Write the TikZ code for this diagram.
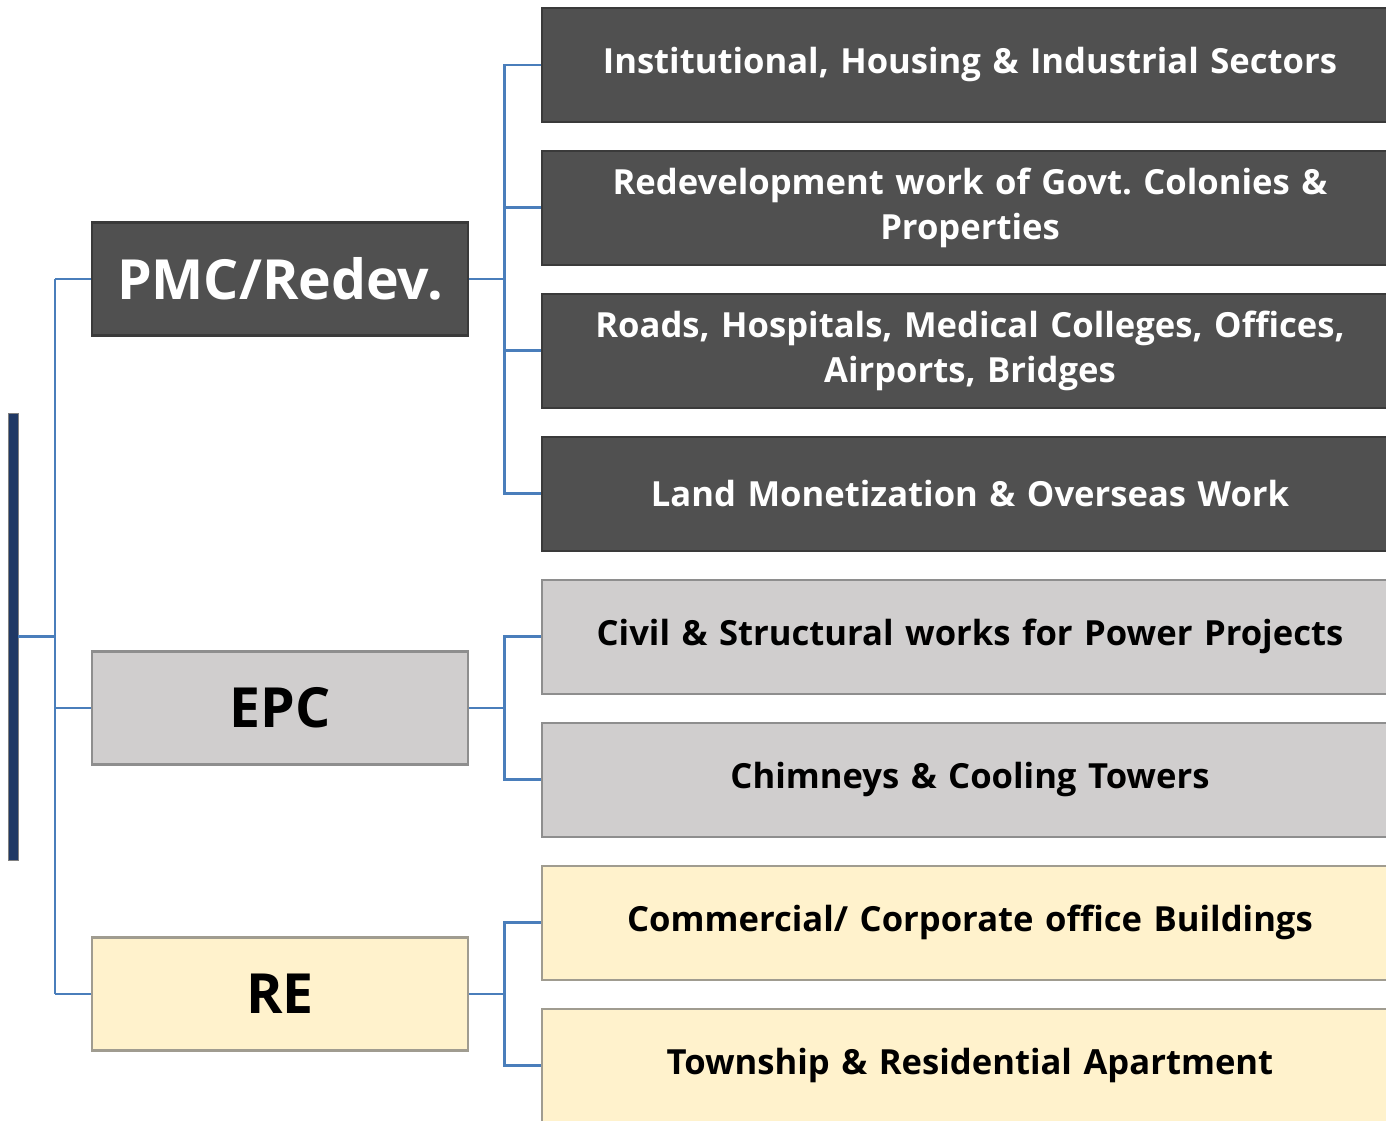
\documentclass[tikz,border=0pt]{standalone}
\usepackage{fontspec}
\setmainfont{Open Sans}
\usetikzlibrary{positioning}
\definecolor{darkfill}{HTML}{505050}
\definecolor{darkline}{HTML}{3A3A3A}
\definecolor{greyfill}{HTML}{D0CECE}
\definecolor{greyline}{HTML}{8E8E8E}
\definecolor{creamfill}{HTML}{FFF2CC}
\definecolor{creamline}{HTML}{A09C90}
\definecolor{navy}{HTML}{1F3864}
\definecolor{linkblue}{HTML}{4A7EBB}

\begin{document}
\frenchspacing
\begin{tikzpicture}[x=0.02cm,y=-0.02cm,node distance=2.86cm,on grid,
  head/.style={draw,line width=1.2pt,minimum width=7.52cm,minimum height=2.26cm,
    font=\fontsize{31.5}{36}\selectfont\bfseries},
  item/.style={draw,line width=1.2pt,minimum width=17.12cm,minimum height=2.28cm,
    text width=16.4cm,align=center,font=\fontsize{19.7}{26}\selectfont\bfseries},
  dark/.style={fill=darkfill,draw=darkline,text=white},
  grey/.style={fill=greyfill,draw=greyline,text=black},
  cream/.style={fill=creamfill,draw=creamline,text=black},
  link/.style={draw=linkblue,line width=1.7pt}]
  \useasboundingbox (0,0) rectangle (1386,1121);

  % trunk on the left
  \coordinate (trunk) at (55,279);
  \draw[link] (55,279) -- (55,994);

  \node[fill=navy,draw=gray,line width=0.5pt,minimum width=0.2cm,minimum height=8.94cm,
    inner sep=0pt] (bar) at (13,636.5) {};

  \node[head,dark] (pmc) at (280,279) {PMC/Redev.};
  \node[head,grey] (epc) at (280,708) {EPC};
  \node[head,cream] (re) at (280,994) {RE};

  \node[item,dark] (s1) at (970,65) {Institutional, Housing \& Industrial Sectors};
  \node[item,dark] (s2) [below = of s1] {Redevelopment work of Govt. Colonies \&\\Properties};
  \node[item,dark] (s3) [below = of s2] {Roads, Hospitals, Medical Colleges, Offices,\\Airports, Bridges};
  \node[item,dark] (s4) [below = of s3] {Land Monetization \& Overseas Work};
  \node[item,grey] (s5) [below = of s4] {Civil \& Structural works for Power Projects};
  \node[item,grey] (s6) [below = of s5] {Chimneys \& Cooling Towers};
  \node[item,cream] (s7) [below = of s6] {Commercial/ Corporate office Buildings};
  \node[item,cream] (s8) [below = of s7] {Township \& Residential Apartment};

  \draw[link] (pmc.west) -- (pmc.west -| trunk);
  \draw[link] (epc.west) -- (epc.west -| trunk);
  \draw[link] (re.west) -- (re.west -| trunk);
  \draw[link] (bar.east) -- (bar.east -| trunk);

  % brackets to the right
  \draw[link] (pmc.east) -- ++(37,0);
  \draw[link] (s1.west) -- ++(-37,0) |- (s4.west);
  \draw[link] (s2.west) -- ++(-37,0);
  \draw[link] (s3.west) -- ++(-37,0);
  \draw[link] (epc.east) -- ++(37,0);
  \draw[link] (s5.west) -- ++(-37,0) |- (s6.west);
  \draw[link] (re.east) -- ++(37,0);
  \draw[link] (s7.west) -- ++(-37,0) |- (s8.west);
\end{tikzpicture}
\end{document}
